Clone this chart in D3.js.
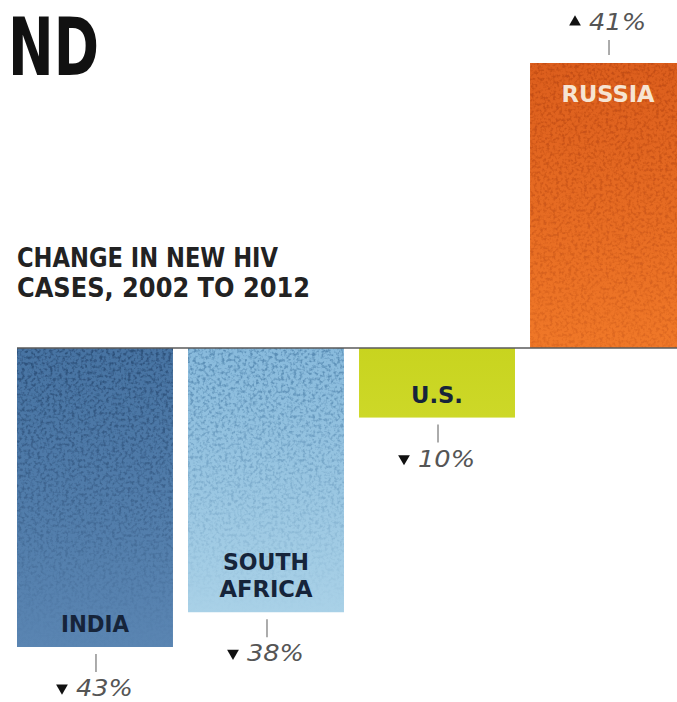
<!DOCTYPE html>
<html><head><meta charset="utf-8">
<script src="https://cdn.jsdelivr.net/npm/d3@7/dist/d3.min.js"></script>
<style>body{margin:0;background:#fff;overflow:hidden}</style>
</head><body>
<svg id="c" width="677" height="702"></svg>
<script>
const countries = ["India", "South Africa", "U.S.", "Russia"];
const labelLines = [["INDIA"], ["SOUTH", "AFRICA"], ["U.S."], ["RUSSIA"]];
const changes = [-43, -38, -10, 41];
const valueLabels = ["43%", "38%", "10%", "41%"];
const topColors = ["#4773a2", "#88badc", "#c8d41f", "#dc5e1d"];
const bottomColors = ["#5a85b2", "#a9d1e7", "#cdd828", "#f07828"];
const speckColors = ["#1c3a60", "#3a6e9a", "#c8d41f", "#9a3008"];
const speckFade = [0.55, 0.45, 0, 0.95];

const svg = d3.select("#c");
const defs = svg.append("defs");

const x = d3.scaleBand().domain(countries).range([17, 686]).paddingInner(0.088);
const y = d3.scaleLinear().domain([-43, 41]).range([647, 63]);

// speckle texture
const f = defs.append("filter").attr("id", "speck").attr("x", 0).attr("y", 0).attr("width", 1).attr("height", 1);
f.append("feTurbulence").attr("type", "fractalNoise").attr("baseFrequency", 0.32).attr("numOctaves", 2).attr("seed", 7).attr("result", "n");
f.append("feColorMatrix").attr("in", "n").attr("type", "matrix")
  .attr("values", "0 0 0 0 0  0 0 0 0 0  0 0 0 0 0  0 0 0 -3.2 1.75").attr("result", "a");
f.append("feComposite").attr("in", "SourceGraphic").attr("in2", "a").attr("operator", "in");

const data = countries.map((c, i) => ({c, i, v: changes[i]}));
const by = d => Math.min(y(0), y(d.v));
const bh = d => Math.abs(y(d.v) - y(0));

data.forEach(d => {
  const g = defs.append("linearGradient").attr("id", "g" + d.i).attr("x1", 0).attr("x2", 0).attr("y1", 0).attr("y2", 1);
  g.append("stop").attr("offset", "0%").attr("stop-color", topColors[d.i]);
  g.append("stop").attr("offset", "100%").attr("stop-color", bottomColors[d.i]);
  const mg = defs.append("linearGradient").attr("id", "mg" + d.i).attr("x1", 0).attr("x2", 0).attr("y1", 0).attr("y2", 1);
  mg.append("stop").attr("offset", "0%").attr("stop-color", "#fff");
  mg.append("stop").attr("offset", (speckFade[d.i] * 100) + "%").attr("stop-color", "#888");
  mg.append("stop").attr("offset", "100%").attr("stop-color", d.i === 3 ? "#777" : "#000");
  defs.append("mask").attr("id", "mk" + d.i)
    .append("rect").attr("x", x(d.c)).attr("y", by(d)).attr("width", x.bandwidth()).attr("height", bh(d))
    .attr("fill", `url(#mg${d.i})`);
});

const bars = svg.append("g").selectAll("g").data(data).join("g");
bars.append("rect")
  .attr("x", d => x(d.c)).attr("width", x.bandwidth())
  .attr("y", by).attr("height", bh)
  .attr("fill", d => `url(#g${d.i})`);
bars.filter(d => d.i !== 2).append("g").attr("mask", d => `url(#mk${d.i})`)
  .append("rect")
  .attr("x", d => x(d.c)).attr("width", x.bandwidth())
  .attr("y", by).attr("height", bh)
  .attr("fill", d => speckColors[d.i])
  .attr("opacity", d => d.i === 3 ? 0.4 : 0.6)
  .attr("filter", "url(#speck)");

// baseline
svg.append("line").attr("x1", 17).attr("x2", 677).attr("y1", y(0)).attr("y2", y(0))
  .attr("stroke", "#5a5a5a").attr("stroke-width", 1.5);

const boldFont = "'DejaVu Sans Condensed','DejaVu Sans',sans-serif";
const labelWidths = {"INDIA": 68, "SOUTH": 86, "AFRICA": 93, "U.S.": 52, "RUSSIA": 93};

bars.each(function(d) {
  const g = d3.select(this);
  const lines = labelLines[d.i];
  const cx = x(d.c) + x.bandwidth() / 2;
  let baseY;
  if (d.v > 0) baseY = y(d.v) + 39;
  else baseY = y(d.v) - 15 - (lines.length - 1) * 27;
  lines.forEach((t, k) => {
    g.append("text").attr("x", cx - labelWidths[t] / 2).attr("y", baseY + k * 27)
      .attr("font-family", boldFont).attr("font-weight", "bold").attr("font-size", 23)
      .attr("textLength", labelWidths[t]).attr("lengthAdjust", "spacingAndGlyphs")
      .attr("fill", d.v > 0 ? "#f6e4d2" : "#16243a")
      .text(t);
  });
  const up = d.v > 0;
  const end = y(d.v);
  const t1 = up ? end - 23 : end + 7;
  const t2 = up ? end - 8 : end + 25;
  g.append("line").attr("x1", cx + 1).attr("x2", cx + 1).attr("y1", t1).attr("y2", t2)
    .attr("stroke", "#888").attr("stroke-width", 1.4);
  const base = up ? end - 33 : end + 49;
  g.append("path")
    .attr("d", d3.symbol().type(d3.symbolTriangle).size(60))
    .attr("transform", `translate(${cx - 33},${base - 8}) rotate(${up ? 0 : 180})`)
    .attr("fill", "#111");
  g.append("text").attr("x", cx - 19).attr("y", base)
    .attr("font-family", "'DejaVu Sans',sans-serif").attr("font-style", "italic").attr("font-size", 23)
    .attr("textLength", 57).attr("lengthAdjust", "spacingAndGlyphs")
    .attr("fill", "#555").text(valueLabels[d.i]);
});

// title fragment
svg.append("text").attr("x", 8).attr("y", 75)
  .attr("font-family", boldFont).attr("font-weight", "bold").attr("font-size", 81)
  .attr("textLength", 91).attr("lengthAdjust", "spacingAndGlyphs")
  .attr("fill", "#111").text("ND");

// subtitle
const subtitle = ["CHANGE IN NEW HIV", "CASES, 2002 TO 2012"];
const subWidths = [261, 293];
subtitle.forEach((t, k) => {
  svg.append("text").attr("x", 17).attr("y", 267 + k * 30)
    .attr("font-family", boldFont).attr("font-weight", "bold").attr("font-size", 26)
    .attr("textLength", subWidths[k]).attr("lengthAdjust", "spacingAndGlyphs")
    .attr("fill", "#222").text(t);
});
</script>
</body></html>
